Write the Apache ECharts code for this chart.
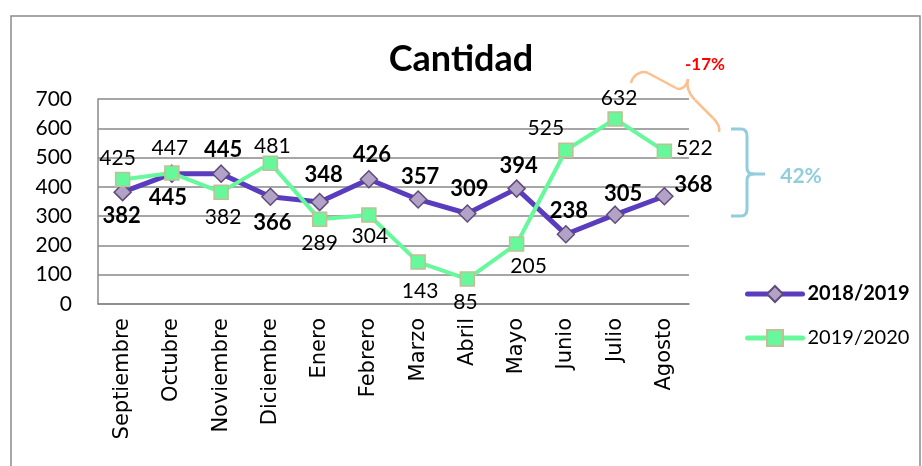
<!DOCTYPE html>
<html>
<head>
<meta charset="utf-8">
<script src="https://cdn.jsdelivr.net/npm/echarts@6/dist/echarts.min.js"></script>
<style>
html,body{margin:0;padding:0;background:#fff;}
#chart{width:922px;height:466px;}
</style>
</head>
<body>
<div id="chart"></div>
<script>
const categories = ['Septiembre','Octubre','Noviembre','Diciembre','Enero','Febrero','Marzo','Abril','Mayo','Junio','Julio','Agosto'];
const values2018 = [382,445,445,366,348,426,357,309,394,238,305,368];
const values2019 = [425,447,382,481,289,304,143,85,205,525,632,522];
const yTicks = [0,100,200,300,400,500,600,700];
const seriesNames = ['2018/2019','2019/2020'];
const titleText = 'Cantidad';
const noteDown = '-17%';
const noteUp = '42%';

// label placement (style, not data)
const off1 = [[-1,24],[-4,24],[2,-24],[2,26],[4,-27],[3,-24],[2,-23],[2,-25],[2,-23],[3,-23],[8,-21],[29,-11]];
const off2 = [[-5,-21],[-2,-25],[2,25],[2,-17],[0,24],[1,21],[2,29],[-2,23],[12,22],[-20,-22],[4,-21],[30,-3]];

const numFont = 'Lato';
const chart = echarts.init(document.getElementById('chart'));
const gridColor = '#888888';
const purple = '#5A3DBF';
const green = '#66F99B';

function build(vals, offs){
  return vals.map((v,i)=>({value:v, label:{offset:offs[i]}}));
}

const orange = {fill:'none', stroke:'#FAC090', lineWidth:2.5};
const blue = {fill:'none', stroke:'#93CDDD', lineWidth:3};
function bz(x1,y1,c1x,c1y,c2x,c2y,x2,y2,st){
  return {type:'bezierCurve', shape:{x1:x1,y1:y1,cpx1:c1x,cpy1:c1y,cpx2:c2x,cpy2:c2y,x2:x2,y2:y2}, style:st, silent:true};
}
function qz(x1,y1,cx,cy,x2,y2,st){
  return {type:'bezierCurve', shape:{x1:x1,y1:y1,cpx1:cx,cpy1:cy,x2:x2,y2:y2}, style:st, silent:true};
}
function ln(x1,y1,x2,y2,st){
  return {type:'line', shape:{x1:x1,y1:y1,x2:x2,y2:y2}, style:st, silent:true};
}

chart.setOption({
  animation:false,
  backgroundColor:'#ffffff',
  title:{
    text:titleText, left:'center', top:34,
    textStyle:{fontFamily:numFont, fontWeight:'bold', fontSize:36, lineHeight:40, color:'#000'}
  },
  grid:{left:98, right:233, top:99, bottom:162, containLabel:false},
  legend:{
    orient:'vertical', left:740, top:279,
    itemWidth:55, itemHeight:20, itemGap:24,
    textStyle:{fontFamily:numFont, fontSize:20, lineHeight:20, color:'#000'},
    data:[
      {name:seriesNames[0], textStyle:{fontWeight:'bold'}, lineStyle:{width:5, color:purple, cap:'round'}},
      {name:seriesNames[1], lineStyle:{width:5, color:green, cap:'round'}}
    ]
  },
  xAxis:{
    type:'category', data:categories, boundaryGap:true,
    axisLine:{show:true, lineStyle:{color:gridColor, width:1.5}},
    axisTick:{show:false},
    axisLabel:{rotate:90, margin:14, fontFamily:'DejaVu Sans', fontSize:21, color:'#000', interval:0}
  },
  yAxis:{
    type:'value', min:yTicks[0], max:yTicks[yTicks.length-1], interval:100,
    axisLine:{show:true, lineStyle:{color:gridColor, width:1.5}},
    axisTick:{show:false},
    splitLine:{show:true, lineStyle:{color:gridColor, width:1.5}},
    axisLabel:{margin:26, fontFamily:numFont, fontSize:21, color:'#000'}
  },
  series:[
    {
      name:seriesNames[0], type:'line', data:build(values2018, off1),
      symbol:'diamond', symbolSize:17,
      lineStyle:{color:purple, width:5},
      itemStyle:{color:'#B3A2C7', borderColor:'#604A7B', borderWidth:1.5},
      label:{show:true, position:'inside', fontFamily:numFont, fontWeight:'bold', fontSize:22, color:'#000', align:'center', verticalAlign:'middle'},
      z:2
    },
    {
      name:seriesNames[1], type:'line', data:build(values2019, off2),
      symbol:'rect', symbolSize:14,
      lineStyle:{color:green, width:4},
      itemStyle:{color:green, borderColor:'#C4BD97', borderWidth:1.5},
      label:{show:true, position:'inside', fontFamily:numFont, fontSize:21, color:'#000', align:'center', verticalAlign:'middle'},
      z:3
    }
  ],
  graphic:[
    {type:'rect', shape:{x:11, y:16, width:909, height:480}, style:{fill:'none', stroke:'#8a8a8a', lineWidth:1.5}, silent:true},
    bz(631,83,633,75,641,70,648,73,orange),
    ln(648,73,676,88,orange),
    bz(676,88,681,91,687,86,688,79,orange),
    bz(688,79,686,87,689,94,695,100,orange),
    ln(695,100,713,118,orange),
    bz(713,118,718,123,720,128,719,132,orange),
    ln(731,129,741,129,blue),
    qz(741,129,747,129,747,136,blue),
    ln(747,136,747,168,blue),
    qz(747,168,747,174,754,174,blue),
    ln(754,174,765,174,blue),
    qz(754,174,747,174,747,180,blue),
    ln(747,180,747,209,blue),
    qz(747,209,747,216,741,216,blue),
    ln(741,216,731,216,blue),
    {type:'text', x:705, y:65, style:{text:noteDown, fill:'#FF0000', font:'bold 17px Lato', align:'center', verticalAlign:'middle'}, silent:true},
    {type:'text', x:801, y:176, style:{text:noteUp, fill:'#92CDDC', font:'bold 21px Lato', align:'center', verticalAlign:'middle'}, silent:true}
  ]
});
</script>
</body>
</html>
